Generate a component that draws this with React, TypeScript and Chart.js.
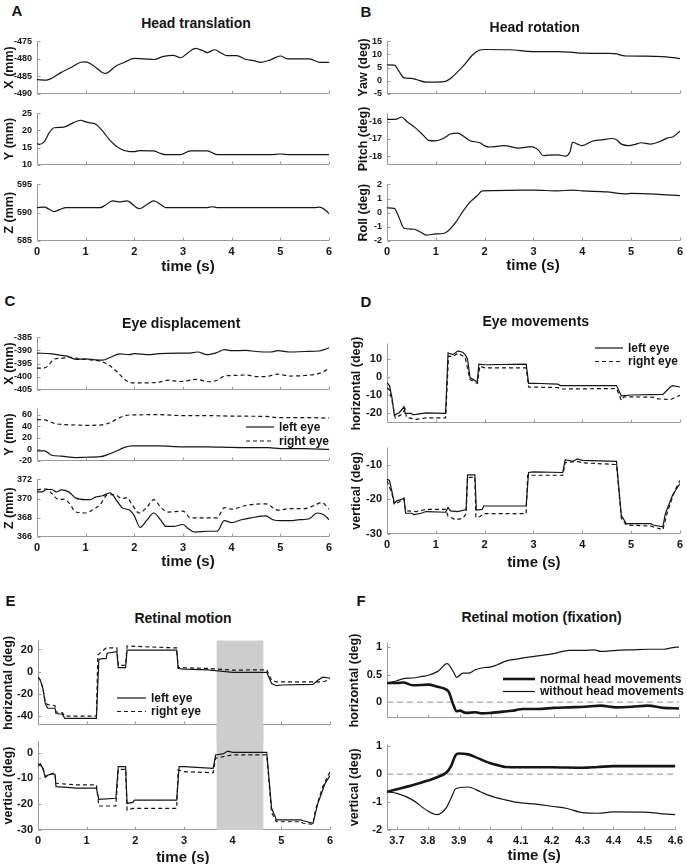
import React, { useEffect, useRef } from "react";
import { Chart, registerables } from "chart.js";
Chart.register(...registerables);

type Pt = [number, number];
const FONT = "'Liberation Sans', Arial, Helvetica, sans-serif";
const INK = "#151515";
const AXIS = "#9a9a9a";

// ---------- tick labels ----------
const timeTicks = [0, 1, 2, 3, 4, 5, 6];
const fixTimeTicks = [3.7, 3.8, 3.9, 4, 4.1, 4.2, 4.3, 4.4, 4.5, 4.6];
const headXTicks = [-490, -485, -480, -475];
const headYTicks = [10, 15, 20, 25];
const headZTicks = [585, 590, 595];
const yawTicks = [-5, 0, 5, 10, 15];
const pitchTicks = [-18, -17, -16];
const rollTicks = [-2, -1, 0, 1, 2];
const eyeXTicks = [-405, -400, -395, -390, -385];
const eyeYTicks = [-20, 0, 20, 40, 60];
const eyeZTicks = [366, 368, 370, 372];
const movHTicks = [-20, -10, 0, 10];
const movVTicks = [-30, -20, -10];
const retHTicks = [-40, -20, 0, 20];
const retVTicks = [-30, -20, -10, 0];
const fixHTicks = [0, 0.5, 1];
const fixVTicks = [-2, -1, 0, 1];

// ---------- A: head translation ----------
const headX: Pt[] = [[0,-486],[0.2,-486.1],[0.3,-485.6],[0.5,-483.9],[0.7,-482.5],[0.9,-481],[1.0,-480.9],[1.1,-481.4],[1.2,-482.4],[1.35,-484],[1.42,-484.2],[1.5,-483.5],[1.6,-482.3],[1.8,-481],[2.0,-479.9],[2.2,-480],[2.4,-480.2],[2.6,-479.3],[2.8,-479],[2.95,-479.7],[3.1,-478.3],[3.25,-477],[3.4,-477.6],[3.5,-478.2],[3.65,-477.4],[3.8,-478.5],[3.9,-479.1],[4.1,-479.1],[4.3,-480.2],[4.45,-480.5],[4.6,-481],[4.8,-480.3],[5.0,-479.2],[5.15,-480],[5.6,-480],[5.8,-481],[6.0,-481]];
const headY: Pt[] = [[0,16.2],[0.05,15.9],[0.15,16.7],[0.25,19.3],[0.35,20.8],[0.5,20.9],[0.6,21.2],[0.75,22.3],[0.9,23],[1.0,22.5],[1.1,22.2],[1.2,21.9],[1.35,19.8],[1.5,17.1],[1.7,14.7],[1.9,13.8],[2.0,13.8],[2.1,14.1],[2.4,14],[2.55,13.2],[2.65,12.9],[2.95,12.9],[3.15,14],[3.5,14],[3.7,12.9],[4.8,12.9],[5.0,13.1],[5.2,12.9],[6.0,12.9]];
const headZ: Pt[] = [[0,590.9],[0.15,591.0],[0.25,590.6],[0.35,590.2],[0.45,590.5],[0.6,590.9],[1.3,590.9],[1.4,591.3],[1.55,592.1],[1.7,591.9],[1.85,592.1],[2.1,590.7],[2.25,591.4],[2.4,592.1],[2.55,591.4],[2.65,590.9],[3.5,590.9],[3.6,591.05],[3.7,590.9],[5.7,590.9],[5.8,591.0],[5.95,590.3],[6.0,589.8]];

// ---------- B: head rotation ----------
const yaw: Pt[] = [[0,6.0],[0.15,5.9],[0.25,3.4],[0.35,1.0],[0.5,0.8],[0.6,0.4],[0.8,-0.6],[1.0,-0.6],[1.2,-0.3],[1.3,0.8],[1.45,3.4],[1.6,6.4],[1.75,9.8],[1.9,11.7],[2.0,11.9],[2.5,11.8],[3.0,11.1],[3.5,11.1],[3.75,10.9],[4.0,10.5],[4.5,10.4],[4.7,10.2],[4.8,9.7],[4.9,9.4],[5.5,9.3],[5.8,8.9],[6.0,8.4]];
const pitch: Pt[] = [[0,-15.85],[0.2,-15.83],[0.3,-15.71],[0.4,-15.96],[0.6,-16.39],[0.75,-16.8],[0.85,-17.08],[1.0,-17.11],[1.15,-16.97],[1.3,-16.71],[1.45,-16.66],[1.6,-16.91],[1.7,-17.1],[1.9,-17.22],[2.0,-17.4],[2.1,-17.47],[2.4,-17.39],[2.7,-17.53],[2.95,-17.45],[3.1,-17.65],[3.2,-17.98],[3.3,-17.95],[3.5,-17.93],[3.65,-18.0],[3.75,-17.73],[3.8,-17.19],[3.9,-17.3],[4.0,-17.39],[4.2,-17.13],[4.4,-17.05],[4.6,-16.97],[4.7,-17.05],[4.8,-17.3],[4.95,-17.39],[5.1,-17.3],[5.2,-17.22],[5.4,-17.3],[5.6,-17.13],[5.75,-16.93],[5.85,-16.88],[6.0,-16.55]];
const roll: Pt[] = [[0,0.34],[0.15,0.3],[0.25,-0.38],[0.35,-1.1],[0.55,-1.17],[0.7,-1.4],[0.8,-1.58],[1.0,-1.5],[1.15,-1.47],[1.25,-1.29],[1.4,-0.72],[1.55,0.07],[1.7,0.75],[1.85,1.2],[1.95,1.54],[2.5,1.58],[3.0,1.6],[3.5,1.54],[3.8,1.6],[4.0,1.54],[4.5,1.47],[4.9,1.33],[5.0,1.36],[5.5,1.31],[6.0,1.2]];

// ---------- C: eye displacement ----------
const eyeXLeft: Pt[] = [[0,-391],[0.3,-391.3],[0.5,-391.9],[0.6,-392.1],[0.8,-393.4],[1.0,-393.2],[1.2,-393.6],[1.35,-393.7],[1.5,-392.7],[1.7,-391.3],[1.9,-391.6],[2.0,-391.2],[2.3,-391.6],[2.5,-391.2],[2.9,-391],[3.1,-391],[3.3,-390.6],[3.5,-391.6],[3.7,-390.8],[3.85,-389.7],[4.0,-390.1],[4.3,-390],[4.5,-390.4],[4.8,-390.6],[4.95,-390.1],[5.2,-390.6],[5.5,-390.4],[5.8,-390.2],[5.9,-389.7],[6.0,-389]];
const eyeXRight: Pt[] = [[0,-396.8],[0.15,-396.7],[0.25,-395.4],[0.35,-393.3],[0.5,-393],[0.7,-392.6],[0.9,-393.3],[1.1,-393.6],[1.3,-394.1],[1.5,-395.9],[1.65,-398.3],[1.8,-401.1],[1.95,-402.4],[2.2,-402.4],[2.5,-402.2],[2.7,-401.4],[2.95,-401.9],[3.2,-401.2],[3.3,-401.1],[3.5,-402],[3.7,-401.4],[3.85,-399.8],[4.0,-399.6],[4.3,-399.4],[4.5,-400],[4.7,-400],[4.95,-399.1],[5.2,-399.8],[5.5,-399.6],[5.8,-398.8],[5.9,-398],[6.0,-396.7]];
const eyeYLeft: Pt[] = [[0,-3],[0.15,-3],[0.3,-10.6],[0.5,-12.2],[0.8,-14.7],[1.0,-14.2],[1.3,-13.2],[1.45,-9.6],[1.6,-4.6],[1.8,3],[1.95,5.6],[2.5,5.6],[3.0,4.1],[3.5,4.1],[4.0,3],[4.5,2.5],[4.75,2.5],[5.0,1],[5.5,1],[6.0,-0.5]];
const eyeYRight: Pt[] = [[0,51.4],[0.15,51],[0.35,45],[0.5,43],[0.8,42],[1.0,41.5],[1.3,42],[1.5,46],[1.7,55],[1.9,59.5],[2.5,60],[3.0,58.5],[3.5,58.5],[4.0,57.5],[4.7,57],[4.95,55],[5.5,55],[6.0,54]];
const eyeZLeft: Pt[] = [[0,370.7],[0.1,370.7],[0.2,370.95],[0.3,370.95],[0.4,370.7],[0.5,370.9],[0.65,370.7],[0.8,370.05],[1.0,369.9],[1.1,369.9],[1.2,370.15],[1.35,370.3],[1.5,370.6],[1.65,369.7],[1.75,369.05],[1.9,368.8],[2.0,368.2],[2.12,367],[2.25,367.7],[2.4,368.5],[2.55,367.7],[2.65,367.1],[2.8,367.1],[3.0,367.3],[3.1,366.9],[3.25,366.5],[3.5,366.6],[3.7,366.6],[3.85,367.7],[4.0,367.5],[4.2,367.8],[4.4,368],[4.7,368.2],[4.85,367.8],[5.0,367.7],[5.2,367.7],[5.4,367.8],[5.6,367.9],[5.75,368.5],[5.9,368.3],[6.0,367.8]];
const eyeZRight: Pt[] = [[0,370.9],[0.1,371],[0.2,371],[0.3,370.55],[0.45,369.9],[0.55,369.95],[0.65,369.6],[0.8,368.6],[1.0,368.5],[1.15,368.85],[1.3,369.4],[1.45,370.4],[1.6,370.4],[1.75,370],[1.85,370.1],[1.95,369.4],[2.1,368.5],[2.25,369.05],[2.4,369.9],[2.55,369.05],[2.7,368.6],[3.0,368.7],[3.15,368],[3.4,368],[3.7,368],[3.85,369.05],[4.0,368.9],[4.3,369.3],[4.7,369.45],[4.95,368.8],[5.2,368.95],[5.5,368.95],[5.7,369.3],[5.85,369.6],[6.0,368.9]];

// ---------- D: eye movements ----------
const movHLeft: Pt[] = [[0,-2.9],[0.05,-4.6],[0.1,-11],[0.15,-20.9],[0.25,-19.6],[0.35,-16.3],[0.37,-20],[0.5,-20],[0.52,-20.7],[0.6,-20.5],[0.8,-19.7],[1.2,-20],[1.25,13.4],[1.35,12.5],[1.45,14.6],[1.55,13.8],[1.6,12.5],[1.65,10],[1.7,-0.2],[1.82,-2.1],[1.85,-2.2],[1.88,7.3],[2.0,6.9],[2.85,7.2],[2.9,-3.4],[3.0,-3.3],[3.5,-3.8],[3.55,-4.6],[4.7,-4.6],[4.8,-10.3],[5.0,-9.8],[5.65,-9.5],[5.8,-5.4],[5.85,-4.6],[6.0,-5.4]];
const movHRight: Pt[] = [[0,-5.9],[0.05,-7],[0.1,-12.7],[0.17,-22.5],[0.3,-20.5],[0.37,-17.6],[0.4,-22.2],[0.6,-23.3],[0.8,-22.5],[1.2,-22.5],[1.26,11.7],[1.35,11.4],[1.45,13.4],[1.6,10.9],[1.7,-1.3],[1.85,-3.4],[1.9,6.1],[2.0,5.2],[2.85,5.2],[2.9,-5.4],[3.5,-5.7],[3.6,-6.5],[4.7,-6.2],[4.8,-12.7],[4.85,-10.8],[5.0,-10.8],[5.5,-11.1],[5.55,-11.9],[5.8,-12.4],[5.9,-11.1],[6.0,-10]];
const movVLeft: Pt[] = [[0,-14.1],[0.05,-14.5],[0.1,-17.7],[0.15,-21.1],[0.2,-20.4],[0.3,-20],[0.35,-19.6],[0.38,-24],[0.5,-24],[0.55,-24.4],[0.7,-24],[0.8,-23.5],[1.2,-23.7],[1.25,-22.3],[1.3,-23.3],[1.45,-23.5],[1.62,-22.9],[1.65,-12.9],[1.8,-12.9],[1.83,-23.1],[1.95,-22.9],[1.98,-21.9],[2.85,-21.9],[2.9,-12.2],[3.0,-12],[3.6,-12.2],[3.65,-8.5],[3.8,-9],[3.9,-8.3],[4.0,-8.7],[4.7,-9],[4.8,-24.7],[4.9,-27],[5.4,-27],[5.45,-27.4],[5.65,-27.9],[5.7,-24.2],[5.85,-18.7],[6.0,-15.4]];
const movVRight: Pt[] = [[0,-14.5],[0.1,-18.2],[0.15,-21.4],[0.35,-20],[0.38,-23.3],[0.6,-23.5],[0.8,-22.9],[1.2,-22.9],[1.25,-24.8],[1.4,-25.9],[1.55,-25.5],[1.62,-24.2],[1.65,-13.6],[1.8,-13.6],[1.82,-25.2],[1.9,-25],[1.98,-24.1],[2.85,-24.1],[2.88,-13],[3.6,-13],[3.65,-9.3],[3.9,-9],[4.0,-9.4],[4.7,-9.9],[4.8,-25.5],[4.9,-27.4],[5.4,-27.7],[5.65,-28.8],[5.75,-23.3],[5.9,-17.3],[6.0,-14.5]];

// ---------- E: retinal motion ----------
const retHLeft: Pt[] = [[0,-4.9],[0.05,-7.7],[0.1,-14.9],[0.15,-29],[0.2,-32.9],[0.35,-32.9],[0.37,-37.7],[0.5,-38.3],[0.55,-42],[1.2,-42],[1.25,10.9],[1.3,11.7],[1.4,11.7],[1.42,16.6],[1.62,18],[1.65,3.7],[1.8,3.7],[1.83,19.4],[2.85,19.4],[2.88,2.9],[3.0,2.3],[3.5,1.7],[3.65,0.9],[4.0,-0.6],[4.7,-0.6],[4.8,-10.6],[4.9,-12.6],[5.0,-12],[5.65,-11.4],[5.75,-7.7],[5.85,-4.9],[6.0,-5.7]];
const retHRight: Pt[] = [[0,-5],[0.05,-8],[0.1,-15],[0.15,-27.7],[0.2,-29.7],[0.35,-30.6],[0.37,-36.3],[0.5,-36.9],[0.55,-40],[1.2,-40],[1.23,15.1],[1.4,21.4],[1.62,21.4],[1.65,5.7],[1.8,5.7],[1.83,23.1],[2.85,21.4],[2.88,3.7],[3.5,2.9],[4.0,1.4],[4.7,1.7],[4.8,-7.7],[4.9,-9.1],[5.8,-9.1],[5.9,-8.6],[6.0,-6.3]];
const retVLeft: Pt[] = [[0,-5.2],[0.05,-4.4],[0.1,-6.1],[0.15,-9.6],[0.2,-8.7],[0.3,-8.3],[0.35,-8.4],[0.37,-13.2],[0.6,-13.5],[0.8,-13.8],[1.2,-13.8],[1.25,-18.1],[1.6,-17.7],[1.65,-5.4],[1.8,-5.4],[1.83,-19.7],[1.95,-19.3],[1.98,-18.4],[2.85,-18.4],[2.9,-5.4],[3.0,-5.4],[3.6,-6.1],[3.65,-0.9],[3.8,-0.5],[3.9,0.6],[4.0,0.1],[4.7,0.1],[4.8,-21.6],[4.9,-26.1],[5.4,-26.1],[5.45,-26.4],[5.65,-27.4],[5.75,-19.7],[5.9,-11.9],[6.0,-8.9]];
const retVRight: Pt[] = [[0,-4.1],[0.1,-6.1],[0.15,-9.3],[0.3,-8],[0.35,-8.1],[0.37,-11.9],[0.8,-12.5],[1.2,-12.5],[1.25,-20.7],[1.6,-20.7],[1.65,-6.5],[1.8,-6.5],[1.83,-22.3],[1.95,-21.6],[2.85,-21.6],[2.88,-6.7],[3.0,-7.4],[3.6,-7.8],[3.65,-2.2],[3.8,-1.6],[4.0,-0.9],[4.7,-0.9],[4.8,-23.3],[4.9,-26.8],[5.4,-26.8],[5.45,-27.4],[5.65,-27.8],[5.7,-22.3],[5.85,-13.2],[6.0,-7.4]];
const fixationBand: Pt = [3.67, 4.63];

// ---------- F: retinal motion (fixation) ----------
const fixHNormal: Pt[] = [[3.668,0.35],[3.7,0.35],[3.72,0.36],[3.75,0.31],[3.8,0.32],[3.83,0.28],[3.85,0.25],[3.865,0.19],[3.88,-0.05],[3.89,-0.16],[3.9,-0.15],[3.92,-0.19],[3.95,-0.18],[3.97,-0.2],[4.0,-0.19],[4.05,-0.16],[4.08,-0.14],[4.1,-0.12],[4.15,-0.12],[4.2,-0.1],[4.25,-0.09],[4.3,-0.08],[4.35,-0.06],[4.4,-0.09],[4.45,-0.08],[4.5,-0.06],[4.55,-0.1],[4.6,-0.11]];
const fixHWithout: Pt[] = [[3.668,0.35],[3.7,0.39],[3.72,0.43],[3.75,0.44],[3.78,0.47],[3.8,0.49],[3.83,0.56],[3.86,0.7],[3.88,0.55],[3.89,0.45],[3.91,0.53],[3.93,0.53],[3.95,0.59],[3.98,0.63],[4.0,0.64],[4.02,0.68],[4.05,0.75],[4.08,0.78],[4.1,0.8],[4.15,0.84],[4.2,0.88],[4.25,0.94],[4.3,0.94],[4.33,0.95],[4.35,0.92],[4.4,0.94],[4.45,0.95],[4.5,0.96],[4.55,0.96],[4.58,0.99],[4.6,1.0]];
const fixVNormal: Pt[] = [[3.668,-0.63],[3.7,-0.54],[3.75,-0.4],[3.8,-0.23],[3.83,-0.11],[3.86,0.06],[3.875,0.29],[3.89,0.69],[3.9,0.74],[3.93,0.71],[3.95,0.63],[4.0,0.4],[4.03,0.31],[4.05,0.26],[4.1,0.25],[4.2,0.25],[4.3,0.23],[4.35,0.26],[4.4,0.29],[4.5,0.29],[4.6,0.29]];
const fixVWithout: Pt[] = [[3.668,-0.63],[3.7,-0.69],[3.75,-0.92],[3.8,-1.32],[3.83,-1.45],[3.86,-1.2],[3.875,-0.86],[3.89,-0.52],[3.93,-0.46],[3.97,-0.63],[4.0,-0.77],[4.05,-0.92],[4.1,-1.03],[4.15,-1.07],[4.2,-1.15],[4.25,-1.23],[4.3,-1.38],[4.35,-1.4],[4.4,-1.35],[4.5,-1.36],[4.55,-1.41],[4.6,-1.45]];
const zeroLine: Pt[] = [[3.668, 0], [4.6, 0]];

const fmt = (v: number) => String(Math.round(v * 1000) / 1000);

interface Series { data: Pt[]; dash?: number[]; width?: number; color?: string; smooth?: boolean }
interface LegendItem { label: string; dash?: number[]; width?: number }
interface SubProps {
  left: number; right: number; top: number; bottom: number;
  cLeft: number; cRight: number; cTop: number; cBottom: number;
  xMin: number; xMax: number; xTicks: number[]; showX: boolean;
  yMin: number; yMax: number; yTicks: number[]; yTickSize: number;
  yLabel: string; yLabelX: number;
  series: Series[];
  legend?: { x1: number; x2: number; y: number; dy: number; items: LegendItem[] };
  band?: { from: number; to: number; fromCanvasTop: boolean; toCanvasBottom: boolean };
}

function Sub(p: SubProps) {
  const ref = useRef<HTMLCanvasElement>(null);
  const w = p.cRight - p.cLeft;
  const h = p.cBottom - p.cTop;
  useEffect(() => {
    const cv = ref.current!;
    const padL = p.left - p.cLeft, padT = p.top - p.cTop, padR = p.cRight - p.right, padB = p.cBottom - p.bottom;
    const deco = {
      id: "deco",
      beforeDatasetsDraw(chart: any) {
        const { ctx, chartArea: a, scales } = chart;
        const xs = scales.x, ys = scales.y;
        ctx.save();
        ctx.strokeStyle = AXIS;
        ctx.lineWidth = 1;
        ctx.beginPath();
        const L = Math.round(a.left) + 0.5;
        const B = Math.round(a.bottom) - 0.5;
        ctx.moveTo(L, a.top);
        ctx.lineTo(L, B);
        ctx.lineTo(a.right, B);
        for (const v of p.yTicks) {
          const y = Math.round(ys.getPixelForValue(v)) + 0.5;
          ctx.moveTo(L, y); ctx.lineTo(L + 3, y);
        }
        for (const v of p.xTicks) {
          const x = Math.round(xs.getPixelForValue(v)) + 0.5;
          ctx.moveTo(x, B); ctx.lineTo(x, B - 3);
        }
        ctx.stroke();
        if (p.band) {
          const x1 = xs.getPixelForValue(p.band.from);
          const x2 = xs.getPixelForValue(p.band.to);
          const y1 = p.band.fromCanvasTop ? 0 : a.top;
          const y2 = p.band.toCanvasBottom ? h : a.bottom;
          ctx.fillStyle = "#cdcdcd";
          ctx.fillRect(x1, y1, x2 - x1, y2 - y1);
        }
        ctx.restore();
      },
      afterDraw(chart: any) {
        const { ctx, chartArea: a } = chart;
        ctx.save();
        ctx.fillStyle = INK;
        ctx.font = `bold 12.5px ${FONT}`;
        ctx.textAlign = "center";
        ctx.textBaseline = "middle";
        ctx.translate(p.yLabelX - p.cLeft, (a.top + a.bottom) / 2);
        ctx.rotate(-Math.PI / 2);
        ctx.fillText(p.yLabel, 0, 0);
        ctx.restore();
        if (p.legend) {
          const lg = p.legend;
          ctx.save();
          ctx.font = `bold 12px ${FONT}`;
          ctx.textAlign = "left";
          ctx.textBaseline = "middle";
          lg.items.forEach((it, i) => {
            const y = lg.y + i * lg.dy - p.cTop;
            ctx.strokeStyle = INK;
            ctx.lineWidth = it.width ?? 1.2;
            ctx.setLineDash(it.dash ?? []);
            ctx.beginPath();
            ctx.moveTo(lg.x1 - p.cLeft, y);
            ctx.lineTo(lg.x2 - p.cLeft, y);
            ctx.stroke();
            ctx.setLineDash([]);
            ctx.fillStyle = INK;
            ctx.fillText(it.label, lg.x2 - p.cLeft + 5, y + 0.5);
          });
          ctx.restore();
        }
      },
    };
    const chart = new Chart(cv, {
      type: "line",
      data: {
        datasets: p.series.map((s) => ({
          data: s.data.map(([x, y]) => ({ x, y })),
          borderColor: s.color ?? INK,
          borderWidth: s.width ?? 1.2,
          borderDash: s.dash ?? [],
          pointRadius: 0,
          fill: false,
          tension: s.smooth ? 0.3 : 0,
          cubicInterpolationMode: s.smooth ? "monotone" : "default",
        })) as any,
      },
      options: {
        animation: false,
        responsive: false,
        maintainAspectRatio: false,
        events: [],
        layout: { padding: { left: 0, top: padT, right: padR, bottom: 0 } },
        plugins: { legend: { display: false }, tooltip: { enabled: false } },
        scales: {
          x: {
            type: "linear",
            min: p.xMin,
            max: p.xMax,
            grid: { display: false, drawTicks: false },
            border: { display: false },
            afterBuildTicks: (s: any) => { s.ticks = p.xTicks.map((v) => ({ value: v })); },
            afterFit: (s: any) => { s.height = padB; },
            ticks: {
              display: p.showX,
              autoSkip: false,
              maxRotation: 0,
              padding: 4,
              color: INK,
              font: { family: FONT, size: 11, weight: "bold" },
              callback: (v: any) => fmt(Number(v)),
            },
          },
          y: {
            type: "linear",
            min: p.yMin,
            max: p.yMax,
            grid: { display: false, drawTicks: false },
            border: { display: false },
            afterBuildTicks: (s: any) => { s.ticks = p.yTicks.map((v) => ({ value: v })); },
            afterFit: (s: any) => { s.width = padL; },
            ticks: {
              autoSkip: false,
              padding: 5,
              color: INK,
              font: { family: FONT, size: p.yTickSize, weight: "bold" },
              callback: (v: any) => fmt(Number(v)),
            },
          },
        },
      } as any,
      plugins: [deco],
    });
    return () => chart.destroy();
  }, []);
  return (
    <canvas
      ref={ref}
      width={w}
      height={h}
      style={{ position: "absolute", left: p.cLeft, top: p.cTop, width: w, height: h }}
    />
  );
}

function T({ x, y, size, children }: { x: number; y: number; size: number; children: any }) {
  return (
    <div
      style={{
        position: "absolute",
        left: x,
        top: y,
        transform: "translate(-50%, -50%)",
        whiteSpace: "nowrap",
        font: `bold ${size}px ${FONT}`,
        color: INK,
        lineHeight: 1,
      }}
    >
      {children}
    </div>
  );
}

const solid = (data: Pt[], smooth = true): Series => ({ data, smooth });
const dashed = (data: Pt[], smooth = true): Series => ({ data, smooth, dash: [4, 3] });
const eyeLegend = [{ label: "left eye" }, { label: "right eye", dash: [4, 3] }];

export default function App() {
  const Lc = { left: 37, right: 329, cLeft: 0, cRight: 343, xMin: 0, xMax: 6, xTicks: timeTicks };
  const Rc = { left: 387, right: 680, cLeft: 343, cRight: 687, xMin: 0, xMax: 6, xTicks: timeTicks };
  const subs: SubProps[] = [
    // A
    { ...Lc, top: 39, bottom: 99, cTop: 31, cBottom: 104, showX: false, yMin: -490, yMax: -475, yTicks: headXTicks, yTickSize: 9, yLabel: "X (mm)", yLabelX: 10, series: [solid(headX)] },
    { ...Lc, top: 111, bottom: 170, cTop: 103, cBottom: 175, showX: false, yMin: 10, yMax: 25, yTicks: headYTicks, yTickSize: 9, yLabel: "Y (mm)", yLabelX: 10, series: [solid(headY)] },
    { ...Lc, top: 182, bottom: 241, cTop: 174, cBottom: 262, showX: true, yMin: 585, yMax: 595, yTicks: headZTicks, yTickSize: 9, yLabel: "Z (mm)", yLabelX: 10, series: [solid(headZ)] },
    // B
    { ...Rc, top: 39, bottom: 99, cTop: 31, cBottom: 104, showX: false, yMin: -5, yMax: 15, yTicks: yawTicks, yTickSize: 9, yLabel: "Yaw (deg)", yLabelX: 364, series: [solid(yaw)] },
    { ...Rc, top: 111, bottom: 170, cTop: 103, cBottom: 175, showX: false, yMin: -18.5, yMax: -15.5, yTicks: pitchTicks, yTickSize: 9, yLabel: "Pitch (deg)", yLabelX: 364, series: [solid(pitch)] },
    { ...Rc, top: 182, bottom: 241, cTop: 174, cBottom: 262, showX: true, yMin: -2, yMax: 2, yTicks: rollTicks, yTickSize: 9, yLabel: "Roll (deg)", yLabelX: 364, series: [solid(roll)] },
    // C
    { ...Lc, top: 335, bottom: 395, cTop: 327, cBottom: 400, showX: false, yMin: -405, yMax: -385, yTicks: eyeXTicks, yTickSize: 9, yLabel: "X (mm)", yLabelX: 10, series: [solid(eyeXLeft), dashed(eyeXRight)] },
    { ...Lc, top: 406, bottom: 466, cTop: 398, cBottom: 471, showX: false, yMin: -20, yMax: 71, yTicks: eyeYTicks, yTickSize: 9, yLabel: "Y (mm)", yLabelX: 10, series: [solid(eyeYLeft), dashed(eyeYRight)],
      legend: { x1: 246, x2: 274, y: 427, dy: 14, items: eyeLegend } },
    { ...Lc, top: 477, bottom: 537, cTop: 469, cBottom: 558, showX: true, yMin: 366, yMax: 372, yTicks: eyeZTicks, yTickSize: 9, yLabel: "Z (mm)", yLabelX: 10, series: [solid(eyeZLeft), dashed(eyeZRight)] },
    // D
    { ...Rc, top: 340, bottom: 430, cTop: 332, cBottom: 435, showX: false, yMin: -25.5, yMax: 18.6, yTicks: movHTicks, yTickSize: 11, yLabel: "horizontal (deg)", yLabelX: 357, series: [solid(movHLeft, false), dashed(movHRight, false)],
      legend: { x1: 595, x2: 623, y: 348, dy: 13.5, items: eyeLegend } },
    { ...Rc, top: 444, bottom: 534, cTop: 436, cBottom: 555, showX: true, yMin: -30, yMax: -5, yTicks: movVTicks, yTickSize: 11, yLabel: "vertical (deg)", yLabelX: 357, series: [solid(movVLeft, false), dashed(movVRight, false)] },
    // E
    { left: 38, right: 330, cLeft: 0, cRight: 343, xMin: 0, xMax: 6, xTicks: timeTicks, top: 637, bottom: 725, cTop: 629, cBottom: 742, showX: false, yMin: -48, yMax: 28, yTicks: retHTicks, yTickSize: 11, yLabel: "horizontal (deg)", yLabelX: 9, series: [solid(retHLeft, false), dashed(retHRight, false)],
      legend: { x1: 117, x2: 146, y: 698, dy: 13.5, items: eyeLegend }, band: { from: fixationBand[0], to: fixationBand[1], fromCanvasTop: false, toCanvasBottom: true } },
    { left: 38, right: 330, cLeft: 0, cRight: 343, xMin: 0, xMax: 6, xTicks: timeTicks, top: 741, bottom: 830, cTop: 725, cBottom: 851, showX: true, yMin: -30, yMax: 4.5, yTicks: retVTicks, yTickSize: 11, yLabel: "vertical (deg)", yLabelX: 9, series: [solid(retVLeft, false), dashed(retVRight, false)],
      band: { from: fixationBand[0], to: fixationBand[1], fromCanvasTop: true, toCanvasBottom: false } },
    // F
    { left: 387, right: 679, cLeft: 343, cRight: 687, xMin: 3.668, xMax: 4.6, xTicks: fixTimeTicks, top: 639, bottom: 725, cTop: 631, cBottom: 730, showX: false, yMin: -0.29, yMax: 1.08, yTicks: fixHTicks, yTickSize: 11, yLabel: "horizontal (deg)", yLabelX: 355,
      series: [{ data: fixHNormal, smooth: true, width: 2.6 }, { data: fixHWithout, smooth: true, width: 1.2 }, { data: zeroLine, color: "#b4b4b4", dash: [6, 4], width: 1.5 }],
      legend: { x1: 503, x2: 535, y: 679, dy: 12.5, items: [{ label: "normal head movements", width: 2.6 }, { label: "without head movements", width: 1.2 }] } },
    { left: 387, right: 679, cLeft: 343, cRight: 687, xMin: 3.668, xMax: 4.6, xTicks: fixTimeTicks, top: 741, bottom: 830, cTop: 733, cBottom: 851, showX: true, yMin: -2, yMax: 1.06, yTicks: fixVTicks, yTickSize: 11, yLabel: "vertical (deg)", yLabelX: 355,
      series: [{ data: fixVNormal, smooth: true, width: 2.6 }, { data: fixVWithout, smooth: true, width: 1.2 }, { data: zeroLine, color: "#b4b4b4", dash: [6, 4], width: 1.5 }] },
  ];
  return (
    <div style={{ position: "absolute", left: 0, top: 0, width: 687, height: 864, background: "#fff", overflow: "hidden" }}>
      {subs.map((s, i) => <Sub key={i} {...s} />)}
      <T x={17} y={10} size={15}>A</T>
      <T x={366} y={10.5} size={15}>B</T>
      <T x={10} y={300} size={15}>C</T>
      <T x={366} y={301} size={15}>D</T>
      <T x={10.5} y={600} size={15}>E</T>
      <T x={361} y={600} size={15}>F</T>
      <T x={196} y={22.7} size={14}>Head translation</T>
      <T x={534.7} y={26.7} size={14}>Head rotation</T>
      <T x={181.2} y={322.7} size={14}>Eye displacement</T>
      <T x={535.8} y={320.8} size={14}>Eye movements</T>
      <T x={183} y={618} size={14}>Retinal motion</T>
      <T x={541.5} y={617.3} size={14}>Retinal motion (fixation)</T>
      <T x={188} y={265} size={15}>time (s)</T>
      <T x={533} y={263.7} size={15}>time (s)</T>
      <T x={188} y={560.3} size={15}>time (s)</T>
      <T x={533.8} y={561.2} size={15}>time (s)</T>
      <T x={182.8} y={856.3} size={15}>time (s)</T>
      <T x={534.2} y={853.7} size={15}>time (s)</T>
    </div>
  );
}
